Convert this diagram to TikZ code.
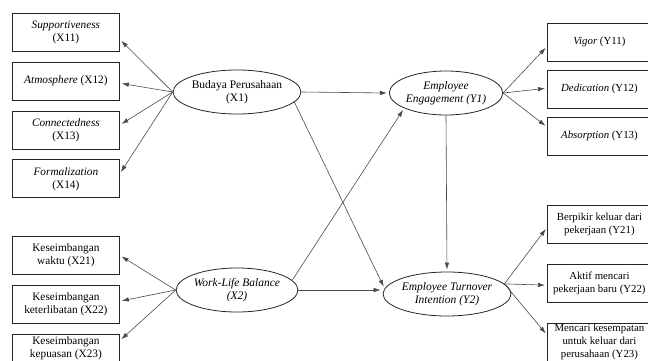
\documentclass[tikz,border=0pt]{standalone}
\usepackage{fontspec}
\setmainfont{Liberation Serif}
\usepackage{tikz}
\usetikzlibrary{shapes, arrows.meta, positioning}
\definecolor{garisColor}{HTML}{4A4A4A}
\tikzstyle{panah} = [line width=0.6pt, draw=garisColor, -{Latex[length=7pt,width=4.5pt]}, shorten >=2pt]

\begin{document}
\begin{tikzpicture}[
    x=1pt, y=-1pt,
    node distance=10pt and 10pt,
    indikator/.style={draw=black!85, line width=0.8pt, rectangle, minimum width=107pt, minimum height=38pt, inner sep=1pt, align=center, font=\fontsize{11.3}{13}\selectfont},
    indikatorkanan/.style={indikator, minimum width=104pt, font=\fontsize{10.8}{13}\selectfont},
    laten/.style={draw=black!85, line width=0.8pt, ellipse, minimum width=104pt, minimum height=44pt, inner sep=0pt, align=center, font=\fontsize{11.5}{13.5}\selectfont}
]
\useasboundingbox (0,0) rectangle (648,361);

% Laten
\node[laten] (x1) at (237,92) {Budaya Perusahaan\\(X1)};
\node[laten] (x2) at (237,290) {\textit{Work-Life Balance}\\\textit{(X2)}};
\node[laten] (y1) at (446,93) {\textit{Employee}\\\textit{Engagement (Y1)}};
\node[laten] (y2) at (447,294) {\textit{Employee Turnover}\\\textit{Intention (Y2)}};

% Indikator X1
\node[indikator, anchor=north west] (x11) at (12,13) {\textit{Supportiveness}\\(X11)};
\node[indikator, below=of x11] (x12) {\textit{Atmosphere} (X12)};
\node[indikator, below=of x12] (x13) {\textit{Connectedness}\\(X13)};
\node[indikator, below=of x13] (x14) {\textit{Formalization}\\(X14)};

% Indikator X2
\node[indikator, anchor=north west] (x21) at (12,236) {Keseimbangan\\waktu (X21)};
\node[indikator, below=of x21] (x22) {Keseimbangan\\keterlibatan (X22)};
\node[indikator, below=of x22, minimum height=0pt, inner ysep=3pt] (x23) {Keseimbangan\\kepuasan (X23)};

% Indikator Y1
\node[indikatorkanan, anchor=north west] (y11) at (547,23) {\textit{Vigor} (Y11)};
\node[indikatorkanan, below=8pt of y11] (y12) {\textit{Dedication} (Y12)};
\node[indikatorkanan, below=8pt of y12] (y13) {\textit{Absorption} (Y13)};

% Indikator Y2
\node[indikatorkanan, anchor=north west] (y21) at (547,205) {Berpikir keluar dari\\pekerjaan (Y21)};
\node[indikatorkanan, below=20pt of y21] (y22) {Aktif mencari\\pekerjaan baru (Y22)};
\node[indikatorkanan, below=20pt of y22, inner ysep=1pt] (y23) {Mencari kesempatan\\untuk keluar dari\\perusahaan (Y23)};

% Draw lines
\draw[panah] (x1.west) -- ([yshift=-7pt]x11.east);
\draw[panah] (x1.west) -- ([yshift=-2pt]x12.east);
\draw[panah] (x1.west) -- ([yshift=5pt]x13.east);
\draw[panah] (x1.west) -- ([yshift=5pt]x14.east);
\draw[panah] (x2.west) -- (x21.east);
\draw[panah] (x2.west) -- ([yshift=3pt]x22.east);
\draw[panah] (x2.west) -- ([yshift=8pt]x23.east);

\draw[panah] (x1.east) -- (y1.west);
\draw[panah] (x1.-10) -- (y2.175);
\draw[panah] (x2.10) -- (y1.200);
\draw[panah] (x2.east) -- (x2.east -| y2.west);
\draw[panah] (y1.south) -- (y2.north);

\draw[panah] (y1.east) -- ([yshift=-4pt]y11.west);
\draw[panah] (y1.east) -- ([yshift=1pt]y12.west);
\draw[panah] (y1.east) -- ([yshift=9pt]y13.west);
\draw[panah] (y2.10) -- ([yshift=-3pt]y21.west);
\draw[panah] (y2.10) -- ([yshift=-2pt]y22.west);
\draw[panah] (y2.10) -- ([yshift=7pt]y23.west);
\end{tikzpicture}
\end{document}
